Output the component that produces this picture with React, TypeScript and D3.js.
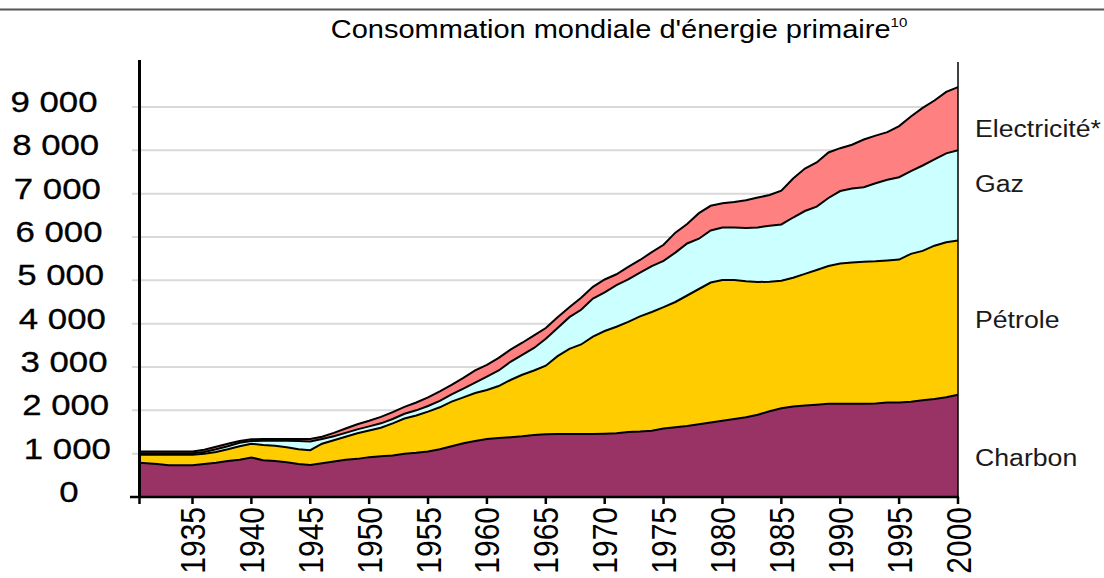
import * as d3 from 'd3'

// Mtep, annual values
const years = d3.range(1931, 2001)

const charbon = [
  790, 760, 730, 730, 730, 760, 790, 830, 860, 910,
  850, 830, 800, 760, 740, 780, 820, 860, 880, 920,
  940, 960, 1000, 1020, 1050, 1100, 1170, 1240, 1290, 1340,
  1360, 1380, 1400, 1430, 1450, 1455, 1455, 1455, 1455, 1460,
  1470, 1500, 1510, 1530, 1580, 1610, 1640, 1680, 1720, 1760,
  1800, 1840, 1900, 1980, 2050, 2090, 2110, 2130, 2150, 2150,
  2150, 2150, 2160, 2180, 2180, 2200, 2230, 2260, 2300, 2360,
]
const petrole = [
  185, 215, 245, 245, 245, 240, 250, 270, 310, 320,
  350, 350, 350, 340, 340, 450, 490, 530, 590, 615,
  660, 740, 810, 860, 920, 970, 1030, 1060, 1110, 1130,
  1200, 1320, 1420, 1490, 1580, 1795, 1965, 2065, 2245, 2370,
  2460, 2540, 2660, 2740, 2800, 2890, 3010, 3120, 3230, 3250,
  3210, 3140, 3060, 2990, 2940, 2970, 3040, 3110, 3180, 3240,
  3260, 3280, 3280, 3280, 3300, 3410, 3450, 3540, 3580, 3560,
]
const gaz = [
  35, 35, 35, 35, 35, 40, 60, 70, 80, 60,
  100, 120, 150, 190, 200, 110, 90, 90, 90, 95,
  100, 100, 110, 120, 130, 150, 170, 200, 240, 310,
  360, 420, 460, 520, 620, 650, 730, 800, 880, 890,
  960, 980, 1010, 1060, 1070, 1140, 1200, 1160, 1200, 1210,
  1210, 1230, 1260, 1290, 1300, 1390, 1450, 1460, 1570, 1670,
  1710, 1720, 1800, 1860, 1900, 1910, 1970, 1990, 2050, 2080,
]
const electricite = [
  40, 40, 40, 40, 40, 50, 60, 60, 40, 40,
  40, 40, 40, 50, 60, 50, 80, 100, 120, 130,
  150, 160, 160, 180, 200, 220, 220, 250, 280, 270,
  290, 280, 280, 290, 250, 250, 230, 280, 270, 300,
  250, 290, 290, 320, 370, 460, 450, 590, 570, 560,
  590, 640, 690, 710, 780, 900, 980, 1020, 1050, 990,
  1010, 1100, 1100, 1100, 1180, 1260, 1330, 1360, 1420, 1460,
]

const seriesKeys = ['charbon', 'petrole', 'gaz', 'electricite']
const seriesLabels = ['Charbon', 'Pétrole', 'Gaz', 'Electricité*']
const seriesColors = ['#993366', '#FFCC00', '#CCFFFF', '#FF8080']

const yTicks = [0, 1000, 2000, 3000, 4000, 5000, 6000, 7000, 8000, 9000]
const xTicks = [1935, 1940, 1945, 1950, 1955, 1960, 1965, 1970, 1975, 1980, 1985, 1990, 1995, 2000]

const W = 1104
const H = 578
const FONT = '"Liberation Sans", Arial, sans-serif'

export default function App() {
  const left = 139.5, right = 958, top = 60, bottom = 497

  const x = d3.scaleLinear().domain([1930.5, 2000]).range([left, right])
  const y = d3.scaleLinear().domain([0, 9000]).range([bottom, 107])

  const rows = years.map((yr, i) => ({
    year: yr,
    charbon: charbon[i],
    petrole: petrole[i],
    gaz: gaz[i],
    electricite: electricite[i],
  }))
  const stacked = d3.stack().keys(seriesKeys)(rows as any)

  // first year is stretched back to the axis, like the original plot
  const px = (d: any, i: number) => (i === 0 ? left : x(d.data.year))
  const area = d3.area<any>().x(px).y0(d => y(d[0])).y1(d => y(d[1]))
  const topLine = d3.line<any>().x(px).y(d => y(d[1]))

  const fmt = (v: number) => d3.format(',')(v).replace(/,/g, ' ')

  // label baselines at the right of the plot
  const legendY = [466, 328, 192, 137]

  return (
    <svg width={W} height={H} style={{ position: 'absolute', left: 0, top: 0, background: '#fff' }}
      fontFamily={FONT}>
      <line x1={0} x2={W} y1={9.5} y2={9.5} stroke="#555" strokeWidth={2} />

      <g transform={`translate(619,38) scale(1.16,1)`}>
        <text textAnchor="middle" fontSize={25} fill="#000">
          Consommation mondiale d'énergie primaire
          <tspan fontSize={13} dy={-11}>10</tspan>
        </text>
      </g>

      {yTicks.filter(v => v > 0).map(v => (
        <line key={v} x1={132} x2={right} y1={y(v)} y2={y(v)} stroke="#d9d9d9" strokeWidth={2} />
      ))}

      {stacked.map((s, i) => (
        <path key={s.key} d={area(s) || ''} fill={seriesColors[i]} />
      ))}
      {stacked.map(s => (
        <path key={'l' + s.key} d={topLine(s) || ''} fill="none" stroke="#000" strokeWidth={2} />
      ))}

      {/* labels drift slightly left going up, as in the scan */}
      {yTicks.map(v => (
        <g key={'yl' + v} transform={`translate(${69 - v / 600},${y(v) + 5}) scale(1.2,1)`}>
          <text textAnchor="middle" fontSize={29} fill="#000" stroke="#000" strokeWidth={0.3}>{fmt(v)}</text>
        </g>
      ))}

      <line x1={left} x2={left} y1={top} y2={bottom} stroke="#000" strokeWidth={3} />
      <line x1={right} x2={right} y1={62} y2={bottom} stroke="#000" strokeWidth={1.5} />
      <line x1={130} x2={right + 1} y1={bottom} y2={bottom} stroke="#000" strokeWidth={2.5} />

      {[1930.5, ...xTicks].map(t => (
        <line key={'xt' + t} x1={x(t)} x2={x(t)} y1={bottom} y2={bottom + 7} stroke="#000" strokeWidth={2.5} />
      ))}
      {xTicks.map(t => (
        <g key={'xl' + t} transform={`translate(${x(t)},507) scale(1.16,1) rotate(-90)`}>
          <text textAnchor="end" dy="0.36em" fontSize={30} fill="#000">{t}</text>
        </g>
      ))}

      {seriesLabels.map((lab, i) => (
        <g key={lab} transform={`translate(975,${legendY[i]}) scale(1.16,1)`}>
          <text fontSize={23} fill="#1a1a1a">{lab}</text>
        </g>
      ))}
    </svg>
  )
}
